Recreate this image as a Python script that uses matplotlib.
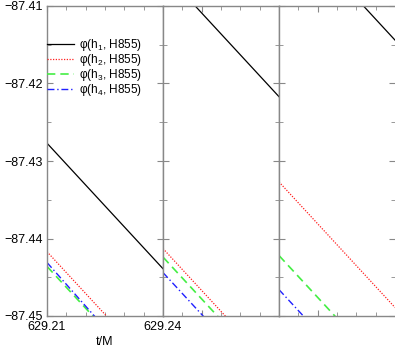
import matplotlib
matplotlib.use("Agg")
import matplotlib.pyplot as plt
from matplotlib.ticker import MultipleLocator, FixedLocator

plt.rcParams["font.family"] = ["Liberation Sans", "DejaVu Sans"]
plt.rcParams["mathtext.fontset"] = "custom"
plt.rcParams["mathtext.rm"] = "Liberation Sans"
plt.rcParams["mathtext.it"] = "Liberation Sans:italic"

# ── data: each panel is a short window in t/M, values at window edges ─────────
panel_t = [
    [629.21, 629.24],
    [629.24, 629.27],
    [629.27, 629.30],
]
phi_h1 = [[-87.4277, -87.4439], [-87.4055, -87.4217], [-87.3982, -87.4144]]
phi_h2 = [[-87.4417, -87.4579], [-87.4413, -87.4575], [-87.4327, -87.4489]]
phi_h3 = [[-87.4436, -87.4598], [-87.4424, -87.4586], [-87.4422, -87.4584]]
phi_h4 = [[-87.4431, -87.4600], [-87.4444, -87.4606], [-87.4466, -87.4628]]

labels = [r"φ(h$_1$, H855)", r"φ(h$_2$, H855)",
          r"φ(h$_3$, H855)", r"φ(h$_4$, H855)"]
xtick_vals = [629.21, 629.24]
ylims = (-87.45, -87.41)

series = [phi_h1, phi_h2, phi_h3, phi_h4]
styles = [
    dict(color="black", lw=0.9, ls="-"),
    dict(color="#ff2020", lw=0.9, ls=(0, (1, 1.2))),
    dict(color="#44ee44", lw=1.2, ls=(0, (5, 3))),
    dict(color="#2020ff", lw=1.0, ls=(0, (5, 2, 1, 2))),
]

fig = plt.figure(figsize=(3.95, 3.54), dpi=100)
left, bottom, top = 47 / 395, 1 - 316 / 354, 1 - 6 / 354
pw = 116 / 395
grey = "#888888"
fs = 9
lfs = 8.5

axes = []
for i in range(3):
    ax = fig.add_axes([left + i * pw, bottom, pw, top - bottom])
    axes.append(ax)
    for s, st in zip(series, styles):
        ax.plot(panel_t[i], s[i], **st)
    ax.set_xlim(panel_t[i])
    ax.set_ylim(ylims)
    ax.yaxis.set_major_locator(MultipleLocator(0.01))
    ax.yaxis.set_minor_locator(MultipleLocator(0.005))
    ax.xaxis.set_minor_locator(MultipleLocator(0.005))
    for sp in ax.spines.values():
        sp.set_color(grey)
        sp.set_linewidth(1.0)
    ax.tick_params(which="both", direction="in", top=True, right=True,
                   color=grey, labelsize=fs)
    ax.tick_params(which="major", length=4)
    ax.tick_params(which="minor", length=3)
    if i == 0:
        ax.xaxis.set_major_locator(FixedLocator(xtick_vals))
        ax.set_xticklabels([f"{v:.2f}" for v in xtick_vals])
        ax.set_yticklabels([f"{v:.2f}".replace("-", "\u2212")
                            for v in ax.get_yticks()])
        ax.set_xlabel("t/M", fontsize=fs, labelpad=2)
        ax.tick_params(axis="x", pad=3.5)
        ax.tick_params(axis="y", pad=3)
    else:
        ax.xaxis.set_major_locator(MultipleLocator(0.03))
        ax.tick_params(labelbottom=False, labelleft=False)
    if i == 2:
        ax.spines["right"].set_visible(False)

axes[0].legend(labels, loc="upper left", bbox_to_anchor=(0.0, 0.9),
               frameon=False, fontsize=lfs, handlelength=2.25,
               handletextpad=0.5, labelspacing=-0.08, borderaxespad=0,
               borderpad=0)

fig.savefig("out.png", dpi=100)
